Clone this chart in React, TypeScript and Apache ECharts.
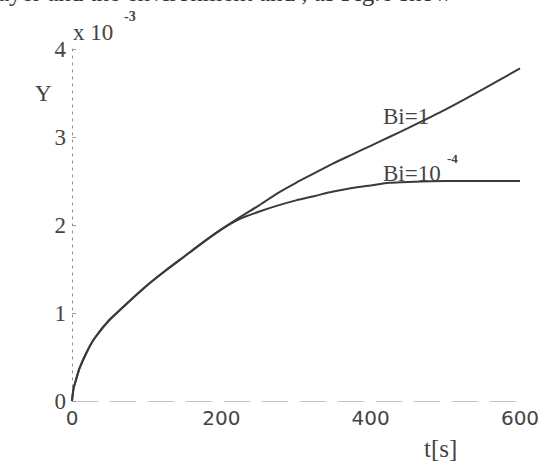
import React, { useEffect, useRef } from "react";
import * as echarts from "echarts";

const tValues = [0, 2, 5, 10, 20, 30, 50, 75, 100, 125, 150, 175, 200, 225, 250, 275, 300, 325, 350, 375, 400, 425, 450, 500, 550, 600];
const bi1Values = [0, 0.14, 0.23, 0.37, 0.56, 0.71, 0.92, 1.12, 1.31, 1.48, 1.64, 1.8, 1.95, 2.09, 2.22, 2.36, 2.48, 2.59, 2.7, 2.8, 2.9, 3.0, 3.1, 3.31, 3.54, 3.78];
const bi4Values = [0, 0.14, 0.23, 0.37, 0.56, 0.71, 0.92, 1.12, 1.31, 1.48, 1.64, 1.8, 1.95, 2.07, 2.15, 2.22, 2.28, 2.33, 2.38, 2.42, 2.45, 2.48, 2.49, 2.5, 2.5, 2.5];
const xTicks = [0, 200, 400, 600];
const yTicks = [0, 1, 2, 3, 4];
const seriesNames = ["Bi=1", "Bi=10^-4"];

const serif = "'Liberation Serif', 'DejaVu Serif', serif";
const sans = "'DejaVu Sans', sans-serif";
const ink = "#3a3a3a";

export default function App() {
  const ref = useRef<HTMLDivElement>(null);
  useEffect(() => {
    if (!ref.current) return;
    const chart = echarts.init(ref.current, null, { renderer: "svg" });
    const pair = (vals: number[]) => tValues.map((t, i) => [t, vals[i]]);
    chart.setOption({
      animation: false,
      backgroundColor: "#ffffff",
      grid: { left: 72, right: 25, top: 49, bottom: 75, containLabel: false },
      xAxis: {
        type: "value",
        min: 0,
        max: 600,
        interval: 200,
        splitLine: { show: false },
        axisTick: { show: false },
        axisLine: { show: true, lineStyle: { color: "#c4c4c4", type: [26, 12], width: 1 } },
        axisLabel: {
          color: "#444",
          fontFamily: sans,
          fontSize: 20,
          margin: 7,
          formatter: (v: number) => (xTicks.includes(v) ? String(v) : ""),
        },
      },
      yAxis: {
        type: "value",
        min: 0,
        max: 4,
        interval: 1,
        splitLine: { show: false },
        axisTick: { show: true, inside: true, length: 4, lineStyle: { color: "#999" } },
        axisLine: { show: true, lineStyle: { color: "#8a8a8a", type: [2, 5], width: 1 } },
        axisLabel: {
          color: "#444",
          fontFamily: serif,
          fontSize: 23,
          margin: 6,
          formatter: (v: number) => (yTicks.includes(v) ? String(v) : ""),
        },
      },
      series: [
        {
          name: seriesNames[0],
          type: "line",
          data: pair(bi1Values),
          showSymbol: false,
          smooth: 0.2,
          lineStyle: { color: ink, width: 2 },
          z: 3,
        },
        {
          name: seriesNames[1],
          type: "line",
          data: pair(bi4Values),
          showSymbol: false,
          smooth: 0.2,
          lineStyle: { color: ink, width: 2 },
          z: 2,
        },
      ],
      graphic: [
        {
          type: "text",
          left: -2,
          top: -20,
          style: {
            text: "ayer and the environment and , as Fig.6 show",
            font: `25px ${serif}`,
            fill: "#333",
          },
        },
        {
          type: "text",
          x: 73,
          y: 21,
          style: { text: "x 10", font: `23px ${serif}`, fill: "#444" },
        },
        {
          type: "text",
          x: 124,
          y: 9,
          style: { text: "-3", font: `bold 14px ${serif}`, fill: "#444" },
        },
        {
          type: "text",
          x: 35,
          y: 82,
          style: { text: "Y", font: `23px ${serif}`, fill: "#444" },
        },
        {
          type: "text",
          x: 424,
          y: 436,
          style: { text: "t[s]", font: `25px ${serif}`, fill: "#444" },
        },
        {
          type: "text",
          x: 383,
          y: 105,
          style: { text: "Bi=1", font: `23px ${serif}`, fill: "#444" },
        },
        {
          type: "text",
          x: 383,
          y: 162,
          style: { text: "Bi=10", font: `23px ${serif}`, fill: "#444" },
        },
        {
          type: "text",
          x: 447,
          y: 152,
          style: { text: "-4", font: `bold 13px ${serif}`, fill: "#444" },
        },
      ],
    });
    return () => chart.dispose();
  }, []);
  return (
    <div
      ref={ref}
      style={{ position: "fixed", left: 0, top: 0, width: 545, height: 476, background: "#fff" }}
    />
  );
}
